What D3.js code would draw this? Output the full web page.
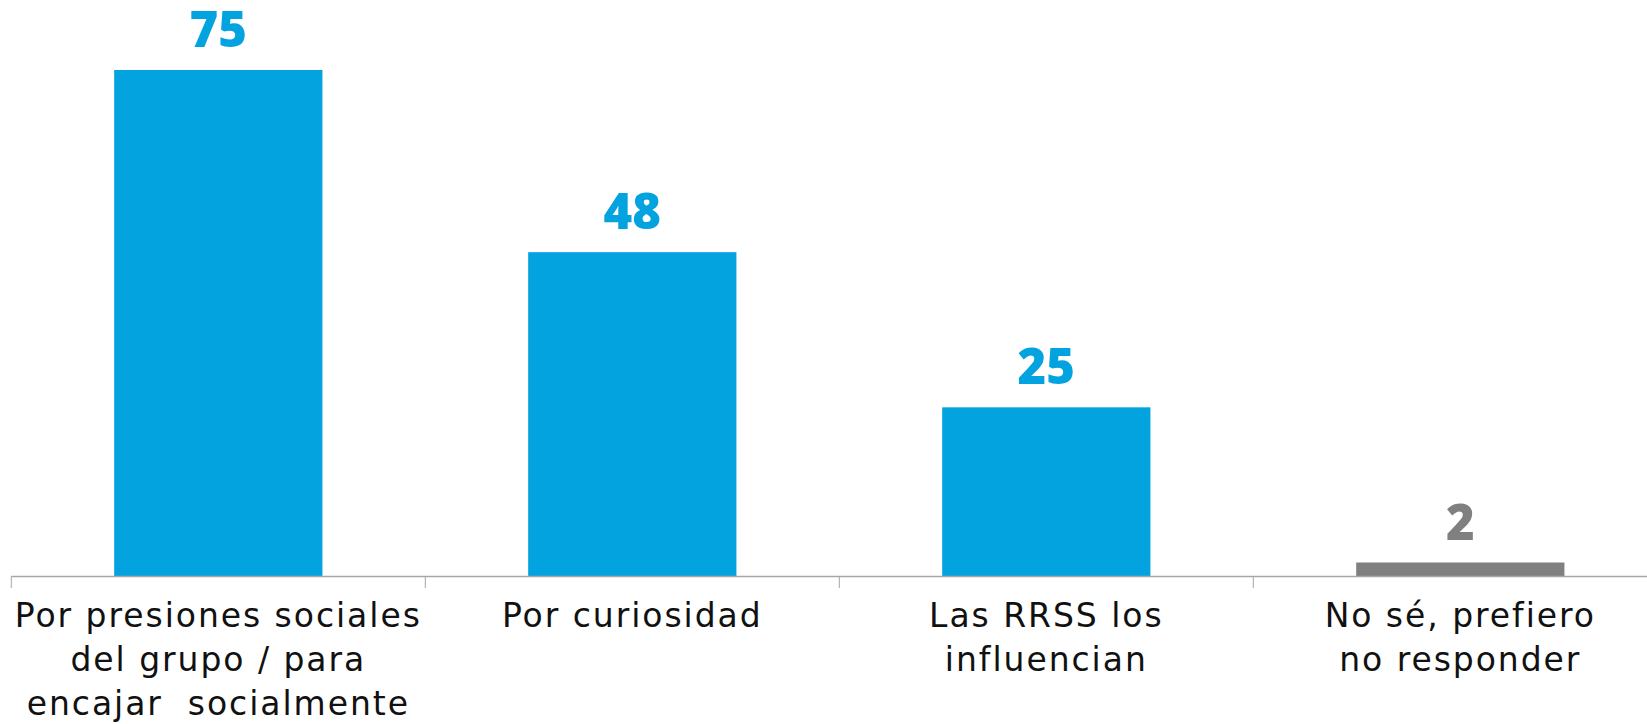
<!DOCTYPE html>
<html>
<head>
<meta charset="utf-8">
<script src="https://cdn.jsdelivr.net/npm/d3@7"></script>
<style>
  html, body { margin: 0; padding: 0; background: #fff; }
  svg { display: block; }
</style>
</head>
<body>
<svg id="chart" width="1647" height="724"></svg>
<script>
const categories = [
  ["Por presiones sociales", "del grupo / para", "encajar  socialmente"],
  ["Por curiosidad"],
  ["Las RRSS los", "influencian"],
  ["No sé, prefiero", "no responder"]
];
const values = [75, 48, 25, 2];
const barColors = ["#03a3e0", "#03a3e0", "#03a3e0", "#808080"];

const svg = d3.select("#chart");
const left = 11.3, step = 414, baseY = 576, topY = 70;
const keys = categories.map((c, i) => i);

const x = d3.scaleBand()
  .domain(keys)
  .range([left, left + step * keys.length])
  .paddingInner(0.497)
  .paddingOuter(0.2485);

const y = d3.scaleLinear().domain([0, 75]).range([baseY, topY]);

// bars
svg.selectAll("rect.bar")
  .data(values)
  .join("rect")
  .attr("class", "bar")
  .attr("x", (d, i) => x(i))
  .attr("width", x.bandwidth())
  .attr("y", d => y(d))
  .attr("height", d => y(0) - y(d))
  .attr("fill", (d, i) => barColors[i]);

// axis line
const axisG = svg.append("g");
axisG.append("line")
  .attr("x1", left).attr("x2", 1647)
  .attr("y1", baseY + 0.5).attr("y2", baseY + 0.5)
  .attr("stroke", "#a6a6a6").attr("stroke-width", 1.5);
axisG.selectAll("line.tick")
  .data(keys)
  .join("line")
  .attr("class", "tick")
  .attr("x1", (d, i) => x(i) - x.step() * x.paddingOuter())
  .attr("x2", (d, i) => x(i) - x.step() * x.paddingOuter())
  .attr("y1", baseY).attr("y2", baseY + 12)
  .attr("stroke", "#a6a6a6").attr("stroke-width", 1);

// value labels
svg.selectAll("text.val")
  .data(values)
  .join("text")
  .attr("class", "val")
  .attr("x", (d, i) => x(i) + x.bandwidth() / 2)
  .attr("y", d => y(d) - 23)
  .attr("text-anchor", "middle")
  .attr("font-family", "'Open Sans', sans-serif")
  .attr("font-weight", 800)
  .attr("font-size", 49)
  .attr("fill", (d, i) => barColors[i])
  .text(d => d);

// category labels
const labG = svg.selectAll("text.cat")
  .data(categories)
  .join("text")
  .attr("class", "cat")
  .attr("x", (d, i) => x(i) + x.bandwidth() / 2)
  .attr("y", 627)
  .attr("text-anchor", "middle")
  .attr("font-family", "'DejaVu Sans', sans-serif")
  .attr("font-size", 33)
  .attr("letter-spacing", 1.95)
  .attr("fill", "#111")
  .style("white-space", "pre");

labG.each(function(lines, i) {
  const t = d3.select(this);
  lines.forEach((ln, j) => {
    t.append("tspan")
      .attr("x", x(i) + x.bandwidth() / 2)
      .attr("y", 627 + j * 44)
      .text(ln);
  });
});
</script>
</body>
</html>
